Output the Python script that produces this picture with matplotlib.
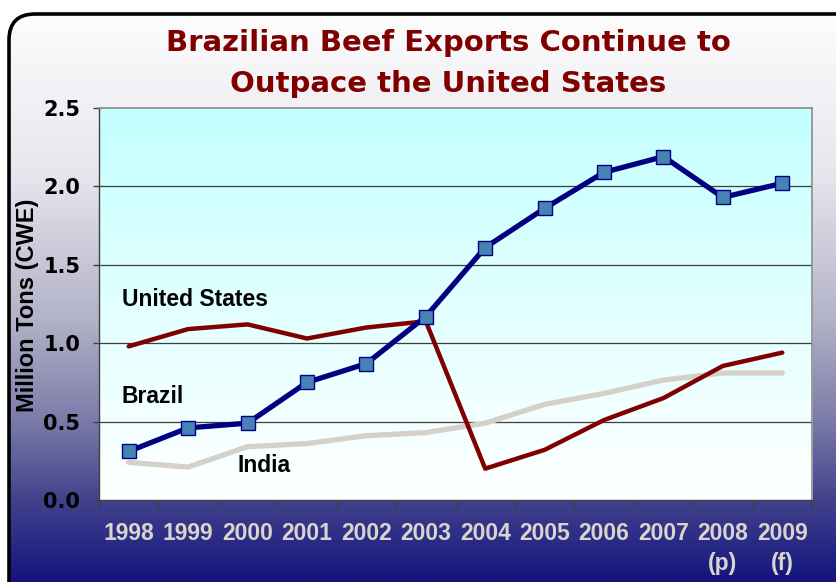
import numpy as np
import matplotlib
matplotlib.use("Agg")
import matplotlib.pyplot as plt
from matplotlib.colors import LinearSegmentedColormap
from matplotlib.patches import FancyBboxPatch

# ---- data -----------------------------------------------------------------
years = ["1998", "1999", "2000", "2001", "2002", "2003",
         "2004", "2005", "2006", "2007", "2008\n(p)", "2009\n(f)"]
brazil = [0.31, 0.46, 0.49, 0.75, 0.87, 1.17, 1.61, 1.86, 2.09, 2.19, 1.93, 2.02]
united_states = [0.98, 1.09, 1.12, 1.03, 1.10, 1.14, 0.20, 0.32, 0.51, 0.65, 0.855, 0.94]
india = [0.24, 0.21, 0.34, 0.36, 0.41, 0.43, 0.49, 0.61, 0.68, 0.765, 0.81, 0.81]

W, H = 836, 582
LAB = "Liberation Sans"
fig = plt.figure(figsize=(W / 100, H / 100), dpi=100)
fig.patch.set_facecolor("white")

# ---- rounded, gradient-filled frame ----------------------------------------
bg = fig.add_axes([0, 0, 1, 1])
bg.set_xlim(0, W)
bg.set_ylim(H, 0)
bg.axis("off")
bg_cmap = LinearSegmentedColormap.from_list(
    "bg", [(0.0, "#ffffff"), (0.3, "#e6e6ee"), (0.55, "#b2b2c8"),
           (0.72, "#7c7caa"), (0.86, "#42428c"), (1.0, "#13157e")])
grad = np.linspace(0, 1, 256).reshape(-1, 1)
im = bg.imshow(grad, cmap=bg_cmap, aspect="auto", extent=[0, W, H, 0],
               interpolation="bilinear")
frame = FancyBboxPatch((9, 14), W + 20, H + 20,
                       boxstyle="round,pad=0,rounding_size=26",
                       facecolor="none", edgecolor="black", lw=2.6,
                       transform=bg.transData)
bg.add_patch(frame)
im.set_clip_path(frame)

# ---- title ----------------------------------------------------------------
fig.text(448 / W, 1 - 43 / H, "Brazilian Beef Exports Continue to",
         ha="center", va="center", fontsize=21, fontweight="bold",
         color="#800000")
fig.text(448 / W, 1 - 84 / H, "Outpace the United States",
         ha="center", va="center", fontsize=21, fontweight="bold",
         color="#800000")

# y-axis title
fig.text(28 / W, 1 - 305 / H, "Million Tons (CWE)", rotation=90,
         ha="center", va="center", fontsize=17, fontweight="bold",
         family=LAB)

# ---- plot area ------------------------------------------------------------
ax = fig.add_axes([99 / W, 82 / H, 713 / W, 392 / H])
ax.set_facecolor("none")
pa_cmap = LinearSegmentedColormap.from_list("pa", ["#c4ffff", "#ffffff"])
ax.imshow(grad, cmap=pa_cmap, aspect="auto", extent=[-0.5, 11.5, 0, 2.5],
          zorder=0, interpolation="bilinear")

x = np.arange(len(years))
ax.set_xlim(-0.5, 11.5)
ax.set_ylim(0, 2.5)

for yv in [0.5, 1.0, 1.5, 2.0]:
    ax.axhline(yv, color="#3c3c3c", lw=0.9, zorder=1)

ax.plot(x, india, color="#d5d0c8", lw=3.8, solid_capstyle="round", zorder=2)
ax.plot(x, united_states, color="#800000", lw=3.2, solid_capstyle="round",
        zorder=3)
ax.plot(x, brazil, color="#000080", lw=3.8, marker="s", markersize=9.5,
        markerfacecolor="#4682b4", markeredgecolor="#000080",
        markeredgewidth=1.0, zorder=4)

ax.text(-0.11, 1.276, "United States", fontsize=16.5, fontweight="bold",
        color="black", va="center", ha="left", family=LAB)
ax.text(-0.12, 0.663, "Brazil", fontsize=16.5, fontweight="bold",
        color="black", va="center", ha="left", family=LAB)
ax.text(1.83, 0.217, "India", fontsize=16.5, fontweight="bold",
        color="black", va="center", ha="left", family=LAB)

# spines
for side in ["top", "right"]:
    ax.spines[side].set_color("#8a8a8a")
    ax.spines[side].set_linewidth(1.2)
ax.spines["left"].set_color("#404040")
ax.spines["bottom"].set_color("#404040")
ax.spines["left"].set_linewidth(1.0)
ax.spines["bottom"].set_linewidth(1.0)

# y axis
ax.set_yticks([0.0, 0.5, 1.0, 1.5, 2.0, 2.5])
ax.set_yticklabels(["0.0", "0.5", "1.0", "1.5", "2.0", "2.5"])
ax.tick_params(axis="y", length=4.5, width=1, color="#404040", pad=9,
               labelsize=15, labelcolor="black")
for lab in ax.get_yticklabels():
    lab.set_fontweight("bold")

# x axis: labels centred, ticks on category boundaries
ax.set_xticks(x)
ax.set_xticklabels(years)
ax.set_xticks(np.arange(-0.5, 12, 1), minor=True)
ax.tick_params(axis="x", which="major", length=0, pad=16, labelsize=16.5,
               labelcolor="#d9d5cd")
ax.tick_params(axis="x", which="minor", length=6, width=1, color="#404040")
for lab in ax.get_xticklabels():
    lab.set_fontweight("bold")
    lab.set_family(LAB)
    lab.set_linespacing(1.4)

fig.savefig("out.png", dpi=100)
